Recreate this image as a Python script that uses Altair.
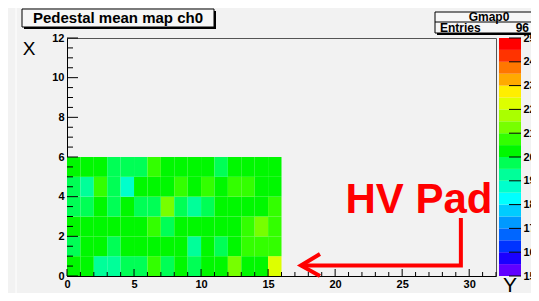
import altair as alt
import pandas as pd

# ---------------- data ----------------
title_text = "Pedestal mean map ch0"
stats_name = "Gmap0"
entries_label = "Entries"
entries_value = "96"

# pedestal mean per cell; rows from X=0 (bottom) to X=5 (top), columns Y=0..15
row_x0 = [20.3, 20.2, 19.3, 19.2, 19.6, 19.7, 20.8, 19.7, 20.2, 19.6, 20.3, 20.1, 21.3, 20.2, 20.4, 22.2]
row_x1 = [19.8, 20.2, 20.3, 19.7, 20.1, 20.4, 20.2, 20.3, 20.1, 19.4, 20.2, 19.7, 20.3, 20.6, 20.7, 20.6]
row_x2 = [20.2, 20.1, 20.3, 20.4, 20.2, 20.1, 20.7, 19.7, 20.2, 20.3, 20.1, 20.2, 20.4, 20.6, 21.2, 20.7]
row_x3 = [19.6, 19.7, 20.2, 19.7, 20.3, 19.7, 19.8, 21.3, 19.7, 19.3, 19.7, 20.2, 20.1, 20.3, 20.2, 20.6]
row_x4 = [19.8, 19.3, 20.6, 19.7, 18.9, 20.2, 20.3, 20.1, 20.6, 20.2, 20.6, 20.3, 20.7, 20.6, 20.2, 20.1]
row_x5 = [20.1, 20.3, 20.2, 19.7, 19.6, 19.7, 20.6, 20.2, 20.1, 20.3, 20.2, 19.8, 20.1, 20.3, 20.2, 20.4]
grid_rows = [row_x0, row_x1, row_x2, row_x3, row_x4, row_x5]

palette_edges = [15.0, 15.5, 16.0, 16.5, 17.0, 17.5, 18.0, 18.5, 19.0, 19.5, 20.0,
                 20.5, 21.0, 21.5, 22.0, 22.5, 23.0, 23.5, 24.0, 24.5, 25.0]
palette_colors = ["#6000ff", "#1a00ff", "#0033ff", "#0066ff", "#0099ff", "#00ccff",
                  "#00ffff", "#00ffcc", "#00ff99", "#00ff55", "#00f800", "#33ff00",
                  "#77ff00", "#aaff00", "#ddff00", "#ffee00", "#ffaa00", "#ff7700",
                  "#ff3300", "#ff0000"]

x_major = [0, 5, 10, 15, 20, 25, 30]
x_minor = [1, 2, 3, 4, 6, 7, 8, 9, 11, 12, 13, 14, 16, 17, 18, 19, 21, 22, 23, 24,
           26, 27, 28, 29, 31, 32]
y_major = [0, 2, 4, 6, 8, 10, 12]
y_minor = [0.5, 1, 1.5, 2.5, 3, 3.5, 4.5, 5, 5.5, 6.5, 7, 7.5, 8.5, 9, 9.5, 10.5, 11, 11.5]
cb_ticks = [15, 16, 17, 18, 19, 20, 21, 22, 23, 24, 25]

# annotation arrow (data coordinates)
arrow_x = [29.38, 29.38, 17.45, 18.87, 17.45, 18.87]
arrow_y = [2.92, 0.53, 0.53, 1.11, 0.53, 0.0]
arrow_seg = [0, 0, 0, 1, 1, 1]
arrow_ord = [0, 1, 2, 0, 1, 2]
hv_label = ["HV Pad"]
hv_x = [26.25]
hv_y = [3.2]

# ---------------- build ----------------
cells = []
for xi, row in enumerate(grid_rows):
    for yi, v in enumerate(row):
        cells.append({"Y": yi, "Y1": yi + 1, "X": xi, "X1": xi + 1, "v": v})
heat_df = pd.DataFrame(cells)

cb_df = pd.DataFrame({
    "lo": palette_edges[:-1],
    "hi": palette_edges[1:],
    "mid": [(a + b) / 2 for a, b in zip(palette_edges[:-1], palette_edges[1:])],
})

FONT = "Liberation Sans"
W, H = 429, 238
CB_L, CB_R = 432, 454

xscale = alt.Scale(domain=[0, 32], nice=False, zero=False)
yscale = alt.Scale(domain=[0, 12], nice=False, zero=False)
cbscale = alt.Scale(domain=[15, 25], nice=False, zero=False)
colorscale = alt.Scale(type="threshold", domain=palette_edges[1:-1], range=palette_colors)

xaxis = alt.Axis(values=x_major, title=None, ticks=False, grid=False, labelFont=FONT,
                 labelFontWeight="bold", labelFontSize=11, labelColor="black",
                 domainColor="black", labelPadding=2, labelFlush=False, labelOverlap=False)
yaxis = alt.Axis(values=y_major, title=None, ticks=False, grid=False, labelFont=FONT,
                 labelFontWeight="bold", labelFontSize=11, labelColor="black",
                 domainColor="black", labelPadding=3, labelFlush=False, labelOverlap=False)
cbaxis = alt.Axis(orient="right", offset=CB_R - W, values=cb_ticks, title=None, ticks=False,
                  grid=False, domain=False, labelFont=FONT, labelFontWeight="bold",
                  labelFontSize=11, labelColor="black", labelPadding=2, labelFlush=False,
                  labelOverlap=False, zindex=0)

one = pd.DataFrame({"a": [0]})

heat = alt.Chart(heat_df).mark_rect(strokeWidth=0).encode(
    x=alt.X("Y:Q", scale=xscale, axis=xaxis),
    x2="Y1:Q",
    y=alt.Y("X:Q", scale=yscale, axis=yaxis),
    y2="X1:Q",
    color=alt.Color("v:Q", scale=colorscale, legend=None),
)

xmaj = alt.Chart(pd.DataFrame({"t": x_major})).mark_rule(color="black").encode(
    x=alt.X("t:Q", scale=xscale, axis=xaxis), y=alt.value(H), y2=alt.value(H - 7))
xmin = alt.Chart(pd.DataFrame({"t": x_minor})).mark_rule(color="black").encode(
    x=alt.X("t:Q", scale=xscale, axis=xaxis), y=alt.value(H), y2=alt.value(H - 4))
ymaj = alt.Chart(pd.DataFrame({"t": y_major})).mark_rule(color="black").encode(
    y=alt.Y("t:Q", scale=yscale, axis=yaxis), x=alt.value(0), x2=alt.value(11))
ymin = alt.Chart(pd.DataFrame({"t": y_minor})).mark_rule(color="black").encode(
    y=alt.Y("t:Q", scale=yscale, axis=yaxis), x=alt.value(0), x2=alt.value(6))

arrow = alt.Chart(pd.DataFrame({"ax": arrow_x, "ay": arrow_y, "seg": arrow_seg, "ord": arrow_ord})).mark_line(
    color="#ff0000", strokeWidth=4, strokeJoin="miter", strokeCap="butt").encode(
    x=alt.X("ax:Q", scale=xscale, axis=xaxis),
    y=alt.Y("ay:Q", scale=yscale, axis=yaxis),
    detail="seg:N",
    order="ord:Q",
)

hv = alt.Chart(pd.DataFrame({"tx": hv_x, "ty": hv_y, "label": hv_label})).mark_text(
    font=FONT, fontSize=42, fontWeight="bold", color="#ff0000", align="center",
    baseline="alphabetic").encode(
    x=alt.X("tx:Q", scale=xscale, axis=xaxis),
    y=alt.Y("ty:Q", scale=yscale, axis=yaxis),
    text="label:N",
)

# decorations (pixel positions relative to the plot area)
win_line = alt.Chart(one).mark_rule(color="white", strokeWidth=1).encode(
    x=alt.value(-51), y=alt.value(-30), y2=alt.value(H + 20))

title_shadow = alt.Chart(one).mark_rect(color="black").encode(
    x=alt.value(-43), x2=alt.value(149), y=alt.value(-27), y2=alt.value(-9))
title_box = alt.Chart(one).mark_rect(fill="#f7f7f7", stroke="black", strokeWidth=1).encode(
    x=alt.value(-45), x2=alt.value(147), y=alt.value(-29), y2=alt.value(-11))
title_txt = alt.Chart(one).mark_text(text=title_text, font=FONT, fontSize=15, fontWeight="bold",
                                      color="black", align="center", baseline="middle").encode(
    x=alt.value(51), y=alt.value(-20))

stats_shadow = alt.Chart(one).mark_rect(color="black").encode(
    x=alt.value(370), x2=alt.value(480), y=alt.value(-24), y2=alt.value(-3))
stats_box = alt.Chart(one).mark_rect(fill="#f7f7f7", stroke="black", strokeWidth=1).encode(
    x=alt.value(368), x2=alt.value(478), y=alt.value(-26), y2=alt.value(-5))
stats_sep = alt.Chart(one).mark_rule(color="black", strokeWidth=1).encode(
    x=alt.value(368), x2=alt.value(478), y=alt.value(-16))
stats_name_txt = alt.Chart(one).mark_text(text=stats_name, font=FONT, fontSize=12, fontWeight="bold",
                                          color="black", align="center", baseline="middle").encode(
    x=alt.value(422), y=alt.value(-21))
stats_lab_txt = alt.Chart(one).mark_text(text=entries_label, font=FONT, fontSize=12, fontWeight="bold",
                                         color="black", align="left", baseline="middle").encode(
    x=alt.value(373), y=alt.value(-10))
stats_val_txt = alt.Chart(one).mark_text(text=entries_value, font=FONT, fontSize=12, fontWeight="bold",
                                         color="black", align="right", baseline="middle").encode(
    x=alt.value(462), y=alt.value(-10))

xlab = alt.Chart(one).mark_text(text="X", font=FONT, fontSize=19, color="black",
                                align="center", baseline="alphabetic").encode(
    x=alt.value(-38), y=alt.value(17))
ylab = alt.Chart(one).mark_text(text="Y", font=FONT, fontSize=21, color="black",
                                align="center", baseline="alphabetic").encode(
    x=alt.value(443), y=alt.value(H + 16))

main = alt.layer(heat, xmaj, xmin, ymaj, ymin, arrow, hv, win_line,
                 title_shadow, title_box, title_txt, xlab, ylab)

cb_rect = alt.Chart(cb_df).mark_rect(strokeWidth=0).encode(
    x=alt.value(CB_L), x2=alt.value(CB_R),
    y=alt.Y("lo:Q", scale=cbscale, axis=cbaxis), y2="hi:Q",
    color=alt.Color("mid:Q", scale=colorscale, legend=None),
)
cb_tick = alt.Chart(pd.DataFrame({"t": cb_ticks})).mark_rule(color="black").encode(
    x=alt.value(CB_R - 12), x2=alt.value(CB_R),
    y=alt.Y("t:Q", scale=cbscale, axis=cbaxis),
)
cb = alt.layer(cb_rect, cb_tick)

stats = alt.layer(stats_shadow, stats_box, stats_sep, stats_name_txt, stats_lab_txt, stats_val_txt)

chart = alt.layer(main, cb, stats).resolve_scale(y="independent").properties(
    width=W, height=H,
    padding={"left": 59, "top": 30, "right": 35, "bottom": 17},
    autosize=alt.AutoSizeParams(type="none"),
    background="#f2f2f2",
).configure_view(stroke="#555555", strokeWidth=1)

chart.save("out.html", embed_options={"renderer": "svg", "actions": False})
